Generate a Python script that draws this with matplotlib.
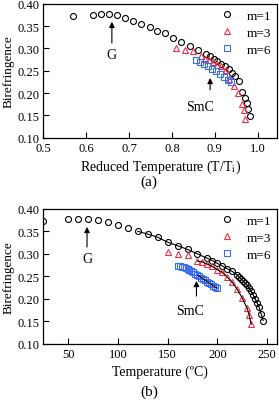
import matplotlib
matplotlib.use('Agg')
import matplotlib.pyplot as plt

plt.rcParams['font.family'] = ['Liberation Serif', 'DejaVu Serif']
plt.rcParams['font.size'] = 9.5
plt.rcParams['mathtext.fontset'] = 'stix'

# panel (a): reduced temperature
red_m1 = [0.570, 0.616, 0.635, 0.653, 0.672, 0.691, 0.709, 0.729, 0.748, 0.766,
          0.784, 0.802, 0.822, 0.841, 0.860, 0.879, 0.888, 0.897, 0.905, 0.915,
          0.923, 0.932, 0.940, 0.948, 0.956, 0.964, 0.971, 0.975, 0.978, 0.982]
bir_a_m1 = [0.372, 0.376, 0.377, 0.377, 0.375, 0.369, 0.361, 0.355, 0.348, 0.340,
            0.334, 0.323, 0.314, 0.306, 0.297, 0.287, 0.282, 0.277, 0.271, 0.265,
            0.260, 0.253, 0.246, 0.238, 0.227, 0.202, 0.188, 0.178, 0.165, 0.149]
red_m3 = [0.810, 0.830, 0.849, 0.868, 0.878, 0.886, 0.895, 0.906, 0.915, 0.925,
          0.934, 0.944, 0.953, 0.963, 0.967, 0.971]
bir_a_m3 = [0.301, 0.297, 0.294, 0.283, 0.277, 0.273, 0.270, 0.264, 0.260, 0.251,
            0.232, 0.216, 0.200, 0.176, 0.163, 0.143]
red_m6 = [0.857, 0.866, 0.875, 0.884, 0.894, 0.903, 0.912, 0.921, 0.930, 0.938]
bir_a_m6 = [0.273, 0.270, 0.266, 0.261, 0.255, 0.249, 0.242, 0.236, 0.230, 0.224]

# panel (b): temperature in C
temp_m1 = [25, 50, 60, 70, 80, 90, 100, 110, 120, 130, 140, 150, 160, 170, 180,
           190, 195, 200, 205, 210, 215, 220, 222, 224, 226, 228, 230, 232, 234,
           236, 238, 240, 242, 244, 246]
bir_b_m1 = [0.372, 0.377, 0.378, 0.378, 0.376, 0.370, 0.364, 0.357, 0.350, 0.344,
            0.337, 0.326, 0.318, 0.310, 0.300, 0.290, 0.285, 0.279, 0.273, 0.267,
            0.261, 0.253, 0.248, 0.244, 0.240, 0.235, 0.230, 0.224, 0.217, 0.209,
            0.200, 0.191, 0.181, 0.167, 0.152]
temp_m3 = [150, 160, 170, 180, 185, 190, 195, 200, 205, 210, 215, 220, 225, 230,
           232, 234]
bir_b_m3 = [0.304, 0.300, 0.298, 0.284, 0.282, 0.277, 0.272, 0.265, 0.259, 0.248,
            0.237, 0.221, 0.202, 0.179, 0.164, 0.144]
temp_m6 = [160, 162, 164, 166, 168, 170, 172, 174, 176, 178, 180, 182, 184, 186,
           188, 190, 192, 194, 196, 198, 200]
bir_b_m6 = [0.273, 0.272, 0.271, 0.270, 0.268, 0.266, 0.264, 0.262, 0.259, 0.256,
            0.253, 0.250, 0.247, 0.244, 0.241, 0.238, 0.235, 0.232, 0.229, 0.226,
            0.224]

c_red = '#f0304a'
c_blue = '#3a6df0'
mk = dict(ls='none', mfc='none', ms=4.3, mew=0.8)

yticks = [0.10, 0.15, 0.20, 0.25, 0.30, 0.35, 0.40]


def style(ax):
    ax.tick_params(direction='in', top=False, right=False, length=4, pad=3,
                   labelsize=9)
    ax.set_yticks(yticks)
    ax.set_yticklabels(['%.2f' % v for v in yticks])
    ax.set_ylim(0.10, 0.40)
    ax.set_ylabel('Birefringence', labelpad=2, fontsize=9.5)
    for s in ax.spines.values():
        s.set_linewidth(0.9)
    ax.legend(loc='upper right', frameon=False, handletextpad=1.0,
              handlelength=1.0, labelspacing=0.35, borderaxespad=0.15,
              borderpad=0.3, fontsize=9.5)


fig = plt.figure(figsize=(2.79, 4.02), dpi=100)

ax1 = fig.add_axes([0.155, 0.655, 0.838, 0.333])
ax1.plot(red_m1, bir_a_m1, marker='o', mec='black', label='m=1', **mk)
ax1.plot(red_m3, bir_a_m3, marker='^', mec=c_red, label='m=3', **mk)
ax1.plot(red_m6, bir_a_m6, marker='s', mec=c_blue, label='m=6', **mk)
ax1.set_xlim(0.5, 1.045)
ax1.set_xticks([0.5, 0.6, 0.7, 0.8, 0.9, 1.0])
ax1.set_xticklabels(['0.5', '0.6', '0.7', '0.8', '0.9', '1.0'])
ax1.set_xlabel('Reduced Temperature (T/T$_\\mathrm{i}$)', labelpad=3, fontsize=10)
style(ax1)
arr = dict(arrowstyle='-|>', color='black', lw=0.8, mutation_scale=8)
ax1.annotate('', xy=(0.660, 0.366), xytext=(0.660, 0.306), arrowprops=arr)
ax1.text(0.660, 0.287, 'G', ha='center', va='center', fontsize=10)
ax1.annotate('', xy=(0.889, 0.240), xytext=(0.889, 0.201), arrowprops=arr)
ax1.text(0.866, 0.170, 'SmC', ha='center', va='center', fontsize=10)

ax2 = fig.add_axes([0.155, 0.142, 0.838, 0.336])
ax2.plot(temp_m1, bir_b_m1, marker='o', mec='black', label='m=1', **mk)
ax2.plot(temp_m3, bir_b_m3, marker='^', mec=c_red, label='m=3', **mk)
ax2.plot(temp_m6, bir_b_m6, marker='s', mec=c_blue, label='m=6', **mk)
# fitted curves
ax2.plot(temp_m1[8:], bir_b_m1[8:], color='black', lw=0.8)
ax2.plot(temp_m3[3:], bir_b_m3[3:], color='black', lw=0.8)
ax2.plot(temp_m6[10:], bir_b_m6[10:], color='black', lw=0.8)
ax2.set_xlim(25, 260)
ax2.set_xticks([50, 100, 150, 200, 250])
ax2.set_xlabel('Temperature (ºC)', labelpad=3, fontsize=10)
style(ax2)
ax2.annotate('', xy=(69, 0.366), xytext=(69, 0.309), arrowprops=arr)
ax2.text(69, 0.290, 'G', ha='center', va='center', fontsize=10)
ax2.annotate('', xy=(179, 0.246), xytext=(179, 0.200), arrowprops=arr)
ax2.text(173, 0.174, 'SmC', ha='center', va='center', fontsize=10)

fig.text(0.534, 1 - 182 / 402, '(a)', ha='center', va='center', fontsize=11)
fig.text(0.534, 1 - 392 / 402, '(b)', ha='center', va='center', fontsize=11)

fig.savefig('out.png', dpi=100)
